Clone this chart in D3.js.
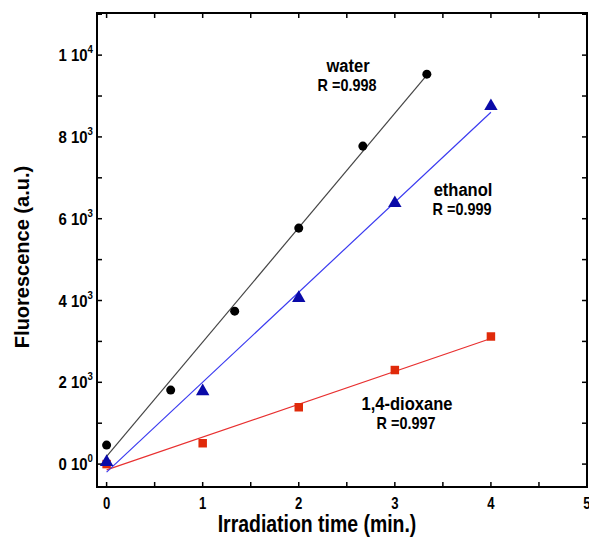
<!DOCTYPE html>
<html>
<head>
<meta charset="utf-8">
<script src="https://cdn.jsdelivr.net/npm/d3@7"></script>
<style>
  body { margin: 0; background: #fff; }
  text { font-family: "Liberation Sans", Arial, sans-serif; font-weight: bold; }
</style>
</head>
<body>
<svg width="589" height="539"></svg>
<script>
// data
const waterX = [0, 0.667, 1.333, 2, 2.667, 3.333];
const waterY = [465, 1810, 3740, 5770, 7775, 9535];
const ethanolX = [0, 1, 2, 3, 4];
const ethanolY = [50, 1780, 4060, 6380, 8750];
const dioxaneX = [0, 1, 2, 3, 4];
const dioxaneY = [0, 510, 1390, 2300, 3120];

const xTickLabels = [0, 1, 2, 3, 4, 5];
const yTickValues = [0, 2000, 4000, 6000, 8000, 10000];
const yTickLabels = [['0', '0'], ['2', '3'], ['4', '3'], ['6', '3'], ['8', '3'], ['1', '4']];

// drawn in this order, so the triangles sit over the squares at t = 0
const series = [
  { name: 'water', r: 'R =0.998', xs: waterX, ys: waterY, marker: d3.symbolCircle, size: 64, fill: '#000', line: '#444', lx: 348, ly: 72 },
  { name: '1,4-dioxane', r: 'R =0.997', xs: dioxaneX, ys: dioxaneY, marker: d3.symbolSquare, size: 72, fill: '#e02a0a', line: '#e83030', lx: 407, ly: 410 },
  { name: 'ethanol', r: 'R =0.999', xs: ethanolX, ys: ethanolY, marker: d3.symbolTriangle, size: 78, fill: '#0a0aa8', line: '#3a3af0', lx: 463, ly: 196 },
];

const svg = d3.select('svg');
const pLeft = 97, pRight = 587, pTop = 13, pBottom = 487;

const x = d3.scaleLinear().domain([-0.1, 5]).range([pLeft, pRight]);
const y = d3.scaleLinear().domain([-560, 11030]).range([pBottom, pTop]);

// least squares fit for each series
function fit(xs, ys) {
  const mx = d3.mean(xs), my = d3.mean(ys);
  let num = 0, den = 0;
  xs.forEach((v, i) => { num += (v - mx) * (ys[i] - my); den += (v - mx) * (v - mx); });
  const slope = num / den;
  return { slope, icpt: my - slope * mx };
}

// ticks, all pointing inward
const xt = d3.range(0, 5.01, 0.5);
const yt = d3.range(0, 11001, 1000);
const axisG = svg.append('g').attr('stroke', '#000').attr('stroke-width', 1.5);
xt.forEach((t) => {
  axisG.append('line').attr('x1', x(t)).attr('x2', x(t)).attr('y1', pBottom).attr('y2', pBottom - 5);
  axisG.append('line').attr('x1', x(t)).attr('x2', x(t)).attr('y1', pTop).attr('y2', pTop + 5);
});
yt.forEach((t) => {
  axisG.append('line').attr('x1', pLeft).attr('x2', pLeft + 5).attr('y1', y(t)).attr('y2', y(t));
  axisG.append('line').attr('x1', pRight).attr('x2', pRight - 5).attr('y1', y(t)).attr('y2', y(t));
});

// fit lines
series.forEach((s) => {
  const f = fit(s.xs, s.ys);
  const x0 = d3.min(s.xs), x1 = d3.max(s.xs);
  svg.append('line')
    .attr('x1', x(x0)).attr('y1', y(f.icpt + f.slope * x0))
    .attr('x2', x(x1)).attr('y2', y(f.icpt + f.slope * x1))
    .attr('stroke', s.line)
    .attr('stroke-width', 1.2);
});

// markers
series.forEach((s) => {
  const sym = d3.symbol().type(s.marker).size(s.size);
  svg.append('g').selectAll('path')
    .data(s.xs.map((v, i) => [v, s.ys[i]]))
    .join('path')
    .attr('transform', (d) => `translate(${x(d[0])},${y(d[1])})`)
    .attr('d', sym)
    .attr('fill', s.fill);
});

// frame
svg.append('rect')
  .attr('x', pLeft).attr('y', pTop)
  .attr('width', pRight - pLeft).attr('height', pBottom - pTop)
  .attr('fill', 'none')
  .attr('stroke', '#000')
  .attr('stroke-width', 2);

// x tick labels
svg.append('g').selectAll('text')
  .data(xTickLabels)
  .join('text')
  .attr('transform', (d) => `translate(${x(d)},509) scale(0.82,1)`)
  .attr('text-anchor', 'middle')
  .style('font-size', '16px')
  .text((d) => d);

// y tick labels like "2 10^3"
const yl = svg.append('g').selectAll('text')
  .data(yTickValues)
  .join('text')
  .attr('transform', (d) => `translate(93,${y(d) + 6}) scale(0.88,1)`)
  .attr('text-anchor', 'end')
  .style('font-size', '17px');
yl.append('tspan').text((d, i) => `${yTickLabels[i][0]} 10`);
yl.append('tspan')
  .attr('dy', -8)
  .style('font-size', '11px')
  .text((d, i) => yTickLabels[i][1]);

// axis titles
svg.append('text')
  .attr('transform', 'translate(317,532) scale(0.81,1)')
  .attr('text-anchor', 'middle')
  .style('font-size', '24px')
  .text('Irradiation time (min.)');

svg.append('text')
  .attr('transform', 'translate(29,257) rotate(-90)')
  .attr('text-anchor', 'middle')
  .style('font-size', '20px')
  .text('Fluorescence (a.u.)');

// series annotations
series.forEach((s) => {
  svg.append('text')
    .attr('transform', `translate(${s.lx},${s.ly}) scale(0.87,1)`)
    .attr('text-anchor', 'middle')
    .style('font-size', '19px')
    .text(s.name);
  svg.append('text')
    .attr('transform', `translate(${s.lx - 1},${s.ly + 19}) scale(0.9,1)`)
    .attr('text-anchor', 'middle')
    .style('font-size', '16px')
    .text(s.r);
});
</script>
</body>
</html>
